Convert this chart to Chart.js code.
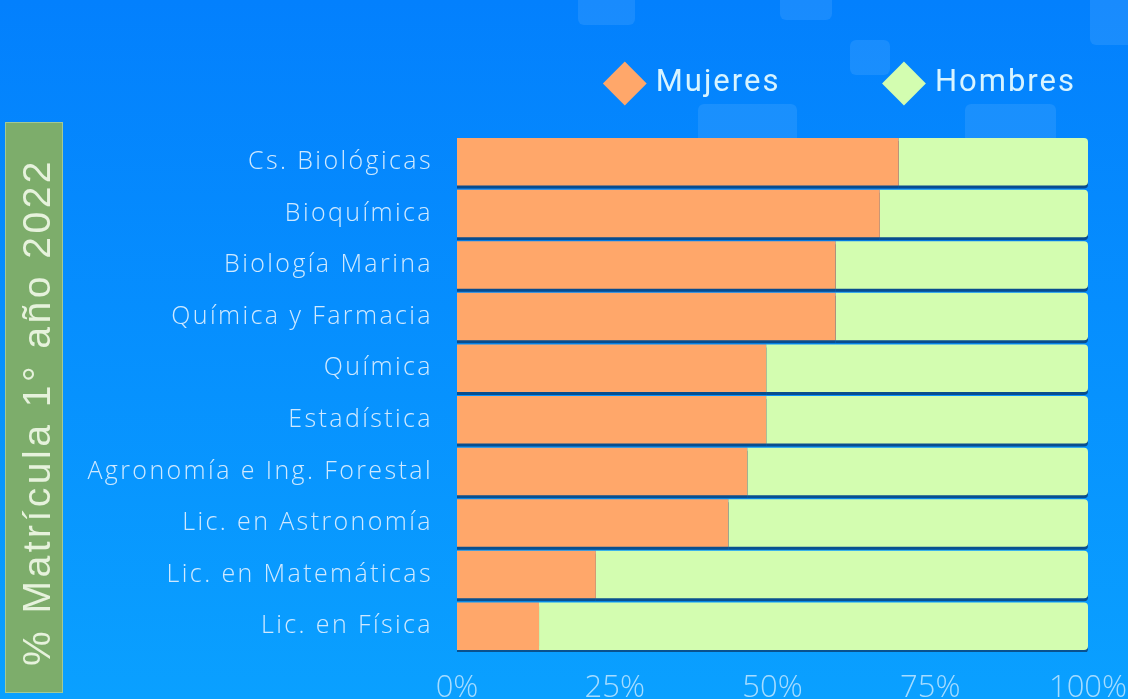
<!DOCTYPE html>
<html>
<head>
<meta charset="utf-8">
<script src="https://cdn.jsdelivr.net/npm/chart.js@4"></script>
<style>
  html, body { margin: 0; padding: 0; background: #0690ff; }
  #wrap { width: 1128px; height: 699px; position: relative; }
</style>
</head>
<body>
<div id="wrap"><canvas id="chartMatricula"></canvas></div>
<script>
// DATOS
const carreras = ['Cs. Biológicas', 'Bioquímica', 'Biología Marina', 'Química y Farmacia', 'Química',
  'Estadística', 'Agronomía e Ing. Forestal', 'Lic. en Astronomía', 'Lic. en Matemáticas', 'Lic. en Física'];
const mujeres = [70, 67, 60, 60, 49, 49, 46, 43, 22, 13];
const hombres = mujeres.map(v => 100 - v);
const ticksX = [0, 25, 50, 75, 100];
const tituloY = '% Matrícula 1° año 2022';

// espaciado de letras (el canvas de Chart.js no lo trae)
function conEspaciado(obj, metodo, esp, dx, dy) {
  if (obj['_w_' + metodo]) return;
  const orig = obj[metodo];
  obj[metodo] = function () {
    const ctx = this.ctx;
    ctx.save();
    ctx.letterSpacing = esp;
    ctx.translate(dx || 0, dy || 0);
    const r = orig.apply(this, arguments);
    ctx.restore();
    return r;
  };
  obj['_w_' + metodo] = true;
}

// fondo + cuadros decorativos + caja verde del titulo
const fondoPlugin = {
  id: 'fondo',
  beforeLayout(chart) {
    const lg = chart.legend;
    if (lg && !lg._ajustada) {
      lg._ajustada = true;
      const fitOrig = lg.fit;
      lg.fit = function () {
        this.ctx.save();
        this.ctx.letterSpacing = '2px';
        fitOrig.apply(this, arguments);
        this.ctx.restore();
        this.height = 136;
      };
      const drawOrig = lg.draw;
      // mover la leyenda sin recortar los rombos
      lg.draw = function () {
        const b = { left: this.left, right: this.right, top: this.top };
        this.left += 96; this.right += 96; this.top -= 40;
        this.ctx.save();
        this.ctx.letterSpacing = '2px';
        drawOrig.apply(this, arguments);
        this.ctx.restore();
        Object.assign(this, b);
      };
    }
  },
  beforeDraw(chart) {
    const ctx = chart.ctx;
    const w = chart.width, h = chart.height;
    ctx.save();
    const g = ctx.createLinearGradient(0, 0, 0, h);
    g.addColorStop(0, '#0380fd');
    g.addColorStop(1, '#0aa0ff');
    ctx.fillStyle = g;
    ctx.fillRect(0, 0, w, h);

    ctx.fillStyle = 'rgba(255,255,255,0.09)';
    [[578, -6, 57, 31], [780, -6, 52, 26], [1090, -6, 50, 51], [850, 40, 40, 35],
     [698, 104, 99, 40], [965, 104, 91, 40]].forEach(r => {
      ctx.beginPath();
      ctx.roundRect(r[0], r[1], r[2], r[3], 6);
      ctx.fill();
    });

    // caja verde
    ctx.fillStyle = '#7dad6b';
    ctx.fillRect(5, 122, 58, 571);
    ctx.strokeStyle = 'rgba(200,230,190,0.5)';
    ctx.lineWidth = 1;
    ctx.strokeRect(5.5, 122.5, 57, 570);
    ctx.restore();
  },
  beforeDatasetsDraw(chart) {
    const ctx = chart.ctx;
    ctx.save();
    ctx.shadowColor = 'rgba(10,55,105,0.75)';
    ctx.shadowOffsetY = 3;
    ctx.shadowBlur = 0;
  },
  afterDatasetsDraw(chart) {
    chart.ctx.restore();
  }
};

const config = {
  type: 'bar',
  data: {
    labels: carreras,
    datasets: [
      { label: 'Mujeres', data: mujeres, backgroundColor: '#ffa76a', borderWidth: 0,
        pointStyle: 'rectRot' },
      { label: 'Hombres', data: hombres, backgroundColor: '#d3fdb0', borderWidth: 0,
        borderRadius: 4, pointStyle: 'rectRot' }
    ]
  },
  options: {
    indexAxis: 'y',
    responsive: false,
    animation: false,
    layout: { padding: { top: 0, right: 40, bottom: 0, left: 0 } },
    datasets: { bar: { categoryPercentage: 1, barPercentage: 0.92 } },
    plugins: {
      tooltip: { enabled: false },
      legend: {
        align: 'end',
        labels: {
          usePointStyle: true,
          color: '#d8f4ff',
          font: { family: 'Roboto', size: 31 },
          padding: 108,
          boxHeight: 31
        },
        onClick: null
      }
    },
    scales: {
      x: {
        stacked: true,
        min: 0, max: 100,
        grid: { display: false },
        border: { display: false },
        afterBuildTicks(scale) { scale.ticks = ticksX.map(v => ({ value: v })); },
        afterFit(scale) {
          scale.height = 47;
          scale.paddingLeft = 0;
          scale.paddingRight = 0;
        },
        ticks: {
          color: '#a6dcff',
          font: { family: 'Open Sans', size: 31, weight: '300' },
          padding: 10,
          callback: v => v + '%'
        }
      },
      y: {
        stacked: true,
        grid: { display: false },
        border: { display: false },
        afterFit(scale) {
          scale.width = 457;
          conEspaciado(scale, 'drawLabels', '2.4px');
          conEspaciado(scale, 'drawTitle', '3.5px', 4, 18);
        },
        title: {
          display: true,
          text: tituloY,
          color: '#e6f2dc',
          font: { family: 'Liberation Sans', size: 39 },
          padding: { top: 12, bottom: 0 }
        },
        ticks: {
          color: '#cfe9ff',
          font: { family: 'Open Sans', size: 25, weight: '300' },
          padding: 16
        }
      }
    }
  },
  plugins: [fondoPlugin]
};

const canvas = document.getElementById('chartMatricula');
canvas.width = 1128;
canvas.height = 699;
const chartMatricula = new Chart(canvas, config);
</script>
</body>
</html>
